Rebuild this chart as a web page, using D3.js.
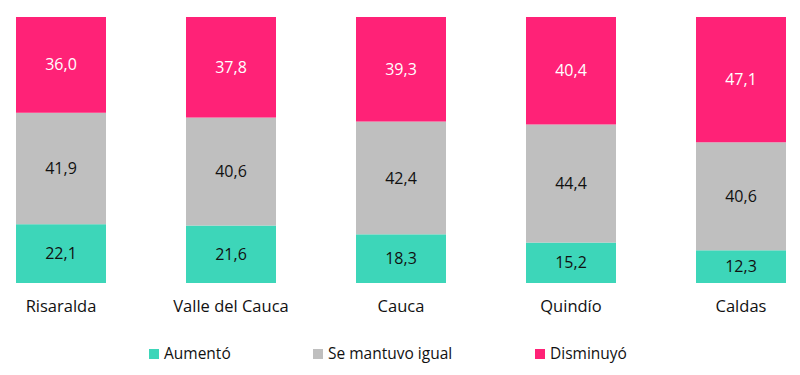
<!DOCTYPE html>
<html>
<head>
<meta charset="utf-8">
<script src="https://cdn.jsdelivr.net/npm/d3@7"></script>
<style>
  body { margin: 0; background: #fff; }
  text { font-family: "Open Sans", "Noto Sans", sans-serif; }
</style>
</head>
<body>
<svg width="800" height="375"></svg>
<script>
const categories = ["Risaralda", "Valle del Cauca", "Cauca", "Quindío", "Caldas"];
const series = ["Aumentó", "Se mantuvo igual", "Disminuyó"];
const aumento = [22.1, 21.6, 18.3, 15.2, 12.3];
const igual = [41.9, 40.6, 42.4, 44.4, 40.6];
const disminuyo = [36.0, 37.8, 39.3, 40.4, 47.1];
const colors = ["#3dd6b9", "#bfbfbf", "#ff2277"];
const labelColors = ["#111", "#111", "#fff"];

const rows = categories.map((c, i) => ({
  cat: c, "Aumentó": aumento[i], "Se mantuvo igual": igual[i], "Disminuyó": disminuyo[i]
}));

const svg = d3.select("svg");

const x = d3.scaleBand()
  .domain(categories)
  .range([-24, 826])
  .paddingInner(80 / 170)
  .paddingOuter(40 / 170);

const y = d3.scaleLinear().domain([0, 100]).range([283, 17]);

const stack = d3.stack().keys(series)(rows);

const groups = svg.append("g").selectAll("g")
  .data(stack)
  .join("g")
    .attr("fill", (d, i) => colors[i]);

groups.selectAll("rect")
  .data(d => d)
  .join("rect")
    .attr("x", d => x(d.data.cat))
    .attr("width", x.bandwidth())
    .attr("y", d => y(d[1]))
    .attr("height", d => y(d[0]) - y(d[1]));

groups.each(function(s, i) {
  d3.select(this).selectAll("text")
    .data(s)
    .join("text")
      .attr("x", d => x(d.data.cat) + x.bandwidth() / 2)
      .attr("y", d => (y(d[0]) + y(d[1])) / 2)
      .attr("dy", "0.35em")
      .attr("text-anchor", "middle")
      .attr("font-size", 16)
      .attr("fill", labelColors[i])
      .text(d => (d[1] - d[0]).toFixed(1).replace(".", ","));
});

// category axis labels
svg.append("g").selectAll("text")
  .data(categories)
  .join("text")
    .attr("x", d => x(d) + x.bandwidth() / 2)
    .attr("y", 306)
    .attr("dy", "0.35em")
    .attr("text-anchor", "middle")
    .attr("font-size", 16.5)
    .attr("fill", "#111")
    .text(d => d);

// legend
const legendX = [149, 313, 535];
const legend = svg.append("g").selectAll("g")
  .data(series)
  .join("g")
    .attr("transform", (d, i) => `translate(${legendX[i]},354)`);

legend.append("rect")
  .attr("x", 0).attr("y", -5)
  .attr("width", 10).attr("height", 10)
  .attr("fill", (d, i) => colors[i]);

legend.append("text")
  .attr("x", 15)
  .attr("dy", "0.35em")
  .attr("font-size", 15.5)
  .attr("fill", "#111")
  .text(d => d);
</script>
</body>
</html>
